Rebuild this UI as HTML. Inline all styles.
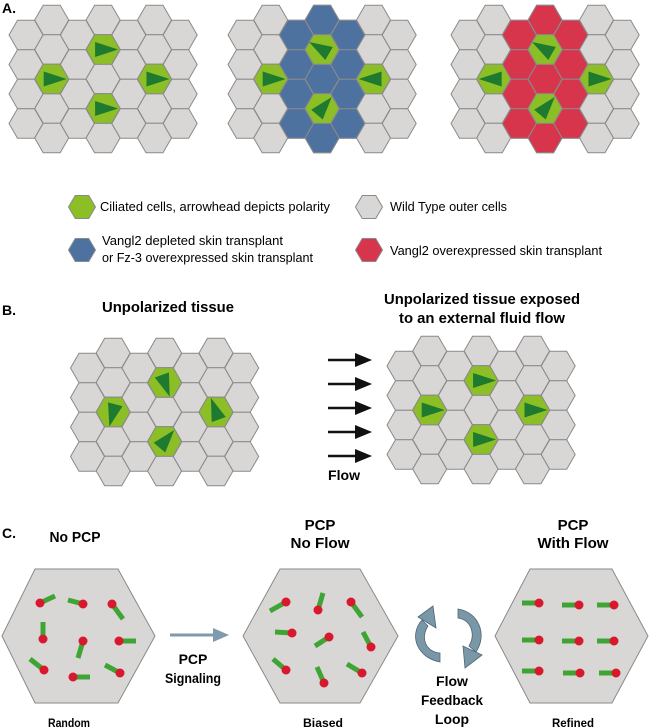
<!DOCTYPE html>
<html><head><meta charset="utf-8"><style>
html,body{margin:0;padding:0;background:#fff;}
svg{display:block;font-family:"Liberation Sans",sans-serif;}
</style></head><body>
<svg width="650" height="728" viewBox="0 0 650 728" xmlns="http://www.w3.org/2000/svg">
<defs>
<polygon id="h" points="-17,0 -8.5,-14.75 8.5,-14.75 17,0 8.5,14.75 -8.5,14.75" stroke="#8a8a8a" stroke-width="1"/>
<polygon id="t" points="-8,-7.5 15,0 -8,7.5" fill="#1e7a2e"/>
<polygon id="lh" points="-13.5,0 -6.75,-11.5 6.75,-11.5 13.5,0 6.75,11.5 -6.75,11.5" stroke="#8a8a8a" stroke-width="1"/>
<g id="grid">
<g fill="#d9d6d6">
<use href="#h" x="0" y="35"/><use href="#h" x="0" y="64.5"/><use href="#h" x="0" y="94"/><use href="#h" x="0" y="123.5"/>
<use href="#h" x="25.7" y="20"/><use href="#h" x="25.7" y="49.5"/><use href="#h" x="25.7" y="79"/><use href="#h" x="25.7" y="108.5"/><use href="#h" x="25.7" y="138"/>
<use href="#h" x="51.4" y="35"/><use href="#h" x="51.4" y="64.5"/><use href="#h" x="51.4" y="94"/><use href="#h" x="51.4" y="123.5"/>
<use href="#h" x="77.1" y="20"/><use href="#h" x="77.1" y="49.5"/><use href="#h" x="77.1" y="79"/><use href="#h" x="77.1" y="108.5"/><use href="#h" x="77.1" y="138"/>
<use href="#h" x="102.8" y="35"/><use href="#h" x="102.8" y="64.5"/><use href="#h" x="102.8" y="94"/><use href="#h" x="102.8" y="123.5"/>
<use href="#h" x="128.5" y="20"/><use href="#h" x="128.5" y="49.5"/><use href="#h" x="128.5" y="79"/><use href="#h" x="128.5" y="108.5"/><use href="#h" x="128.5" y="138"/>
<use href="#h" x="154.2" y="35"/><use href="#h" x="154.2" y="64.5"/><use href="#h" x="154.2" y="94"/><use href="#h" x="154.2" y="123.5"/>
</g>
</g>
<g id="greens" fill="#8cbf26">
<use href="#h" x="25.7" y="79"/><use href="#h" x="77.1" y="49.5"/><use href="#h" x="77.1" y="108.5"/><use href="#h" x="128.5" y="79"/>
</g>
</defs>

<!-- Panel A -->
<text x="2" y="13" font-size="14" font-weight="bold">A.</text>
<g transform="translate(26,0)">
<use href="#grid"/><use href="#greens"/>
<use href="#t" x="25.7" y="79"/><use href="#t" x="77.1" y="49.5"/><use href="#t" x="77.1" y="108.5"/><use href="#t" x="128.5" y="79"/>
</g>
<g transform="translate(245,0)">
<use href="#grid"/>
<g fill="#4e72a0">
<use href="#h" x="51.4" y="35"/><use href="#h" x="51.4" y="64.5"/><use href="#h" x="51.4" y="94"/><use href="#h" x="51.4" y="123.5"/>
<use href="#h" x="77.1" y="20"/><use href="#h" x="77.1" y="79"/><use href="#h" x="77.1" y="138"/>
<use href="#h" x="102.8" y="35"/><use href="#h" x="102.8" y="64.5"/><use href="#h" x="102.8" y="94"/><use href="#h" x="102.8" y="123.5"/>
</g>
<use href="#greens"/>
<use href="#t" x="25.7" y="79"/>
<use href="#t" transform="translate(128.5,79) rotate(180)"/>
<use href="#t" transform="translate(77.1,49.5) rotate(-150)"/>
<use href="#t" transform="translate(77.1,108.5) rotate(-50)"/>
</g>
<g transform="translate(468,0)">
<use href="#grid"/>
<g fill="#d6354b">
<use href="#h" x="51.4" y="35"/><use href="#h" x="51.4" y="64.5"/><use href="#h" x="51.4" y="94"/><use href="#h" x="51.4" y="123.5"/>
<use href="#h" x="77.1" y="20"/><use href="#h" x="77.1" y="79"/><use href="#h" x="77.1" y="138"/>
<use href="#h" x="102.8" y="35"/><use href="#h" x="102.8" y="64.5"/><use href="#h" x="102.8" y="94"/><use href="#h" x="102.8" y="123.5"/>
</g>
<use href="#greens"/>
<use href="#t" transform="translate(25.7,79) rotate(180)"/>
<use href="#t" x="128.5" y="79"/>
<use href="#t" transform="translate(77.1,49.5) rotate(-150)"/>
<use href="#t" transform="translate(77.1,108.5) rotate(-50)"/>
</g>

<!-- Legend -->
<use href="#lh" x="82" y="207" fill="#8cbf26"/>
<text x="100" y="211" font-size="13" textLength="230" lengthAdjust="spacingAndGlyphs">Ciliated cells, arrowhead depicts polarity</text>
<use href="#lh" x="369" y="207" fill="#d9d6d6"/>
<text x="390" y="211" font-size="13" textLength="117" lengthAdjust="spacingAndGlyphs">Wild Type outer cells</text>
<use href="#lh" x="82" y="250" fill="#4e72a0"/>
<text x="102" y="245" font-size="13" textLength="181" lengthAdjust="spacingAndGlyphs">Vangl2 depleted skin transplant</text>
<text x="102" y="262" font-size="13" textLength="211" lengthAdjust="spacingAndGlyphs">or Fz-3 overexpressed skin transplant</text>
<use href="#lh" x="369" y="250" fill="#d6354b"/>
<text x="390" y="255" font-size="13" textLength="212" lengthAdjust="spacingAndGlyphs">Vangl2 overexpressed skin transplant</text>

<!-- Panel B -->
<text x="2" y="315" font-size="14" font-weight="bold">B.</text>
<text x="168" y="312" font-size="15" font-weight="bold" text-anchor="middle" textLength="132" lengthAdjust="spacingAndGlyphs">Unpolarized tissue</text>
<text x="482" y="304" font-size="15" font-weight="bold" text-anchor="middle" textLength="196" lengthAdjust="spacingAndGlyphs">Unpolarized tissue exposed</text>
<text x="482" y="323" font-size="15" font-weight="bold" text-anchor="middle" textLength="166" lengthAdjust="spacingAndGlyphs">to an external fluid flow</text>

<g transform="translate(87.5,333)">
<use href="#grid"/><use href="#greens"/>
<use href="#t" transform="translate(25.7,79) rotate(105)"/>
<use href="#t" transform="translate(77.1,49.5) rotate(70)"/>
<use href="#t" transform="translate(77.1,108.5) rotate(-50)"/>
<use href="#t" transform="translate(128.5,79) rotate(-110)"/>
</g>
<g transform="translate(404,331)">
<use href="#grid"/><use href="#greens"/>
<use href="#t" x="25.7" y="79"/><use href="#t" x="77.1" y="49.5"/><use href="#t" x="77.1" y="108.5"/><use href="#t" x="128.5" y="79"/>
</g>
<g fill="#111" stroke="#111">
<line x1="328" y1="360" x2="358" y2="360" stroke-width="2.5"/><polygon points="355,353 372,360 355,367" stroke="none"/>
<line x1="328" y1="384" x2="358" y2="384" stroke-width="2.5"/><polygon points="355,377 372,384 355,391" stroke="none"/>
<line x1="328" y1="408" x2="358" y2="408" stroke-width="2.5"/><polygon points="355,401 372,408 355,415" stroke="none"/>
<line x1="328" y1="432" x2="358" y2="432" stroke-width="2.5"/><polygon points="355,425 372,432 355,439" stroke="none"/>
<line x1="328" y1="456" x2="358" y2="456" stroke-width="2.5"/><polygon points="355,449 372,456 355,463" stroke="none"/>
</g>
<text x="328" y="480" font-size="14" font-weight="bold" textLength="32" lengthAdjust="spacingAndGlyphs">Flow</text>

<!-- Panel C -->
<text x="2" y="538" font-size="14" font-weight="bold">C.</text>
<text x="75" y="542" font-size="15" font-weight="bold" text-anchor="middle" textLength="51" lengthAdjust="spacingAndGlyphs">No PCP</text>
<text x="320" y="530" font-size="15" font-weight="bold" text-anchor="middle">PCP</text>
<text x="320" y="548" font-size="15" font-weight="bold" text-anchor="middle" textLength="59" lengthAdjust="spacingAndGlyphs">No Flow</text>
<text x="573" y="530" font-size="15" font-weight="bold" text-anchor="middle">PCP</text>
<text x="573" y="548" font-size="15" font-weight="bold" text-anchor="middle" textLength="71" lengthAdjust="spacingAndGlyphs">With Flow</text>

<g fill="#d9d6d6" stroke="#8a8a8a" stroke-width="1">
<polygon points="2,636 35,569 118,569 155,636 118,703 35,703"/>
<polygon points="243,636 280,569 360,569 398,636 360,703 280,703"/>
<polygon points="495,636 530,569 612,569 648,636 612,703 530,703"/>
</g>

<g stroke="#3ea535" stroke-width="5" stroke-linecap="butt">
<line x1="40" y1="603" x2="55" y2="596"/><line x1="83" y1="604" x2="68" y2="600"/><line x1="112" y1="604" x2="123" y2="619"/>
<line x1="43" y1="639" x2="43" y2="622"/><line x1="83" y1="641" x2="78" y2="658"/><line x1="119" y1="641" x2="136" y2="641"/>
<line x1="44" y1="670" x2="30" y2="659"/><line x1="73" y1="677" x2="90" y2="677"/><line x1="120" y1="673" x2="105" y2="665"/>
<line x1="286" y1="602" x2="270" y2="611"/><line x1="318" y1="610" x2="323" y2="593"/><line x1="351" y1="602" x2="362" y2="617"/>
<line x1="292" y1="633" x2="275" y2="632"/><line x1="329" y1="637" x2="315" y2="646"/><line x1="371" y1="647" x2="363" y2="632"/>
<line x1="286" y1="670" x2="273" y2="659"/><line x1="324" y1="683" x2="317" y2="667"/><line x1="362" y1="673" x2="347" y2="664"/>
<line x1="539" y1="603" x2="522" y2="603"/><line x1="579" y1="605" x2="562" y2="605"/><line x1="614" y1="605" x2="597" y2="605"/>
<line x1="539" y1="640" x2="522" y2="640"/><line x1="579" y1="641" x2="562" y2="641"/><line x1="614" y1="641" x2="597" y2="641"/>
<line x1="539" y1="671" x2="522" y2="671"/><line x1="580" y1="673" x2="563" y2="673"/><line x1="616" y1="673" x2="599" y2="673"/>
</g>
<g fill="#d7182d">
<circle cx="40" cy="603" r="4.5"/><circle cx="83" cy="604" r="4.5"/><circle cx="112" cy="604" r="4.5"/>
<circle cx="43" cy="639" r="4.5"/><circle cx="83" cy="641" r="4.5"/><circle cx="119" cy="641" r="4.5"/>
<circle cx="44" cy="670" r="4.5"/><circle cx="73" cy="677" r="4.5"/><circle cx="120" cy="673" r="4.5"/>
<circle cx="286" cy="602" r="4.5"/><circle cx="318" cy="610" r="4.5"/><circle cx="351" cy="602" r="4.5"/>
<circle cx="292" cy="633" r="4.5"/><circle cx="329" cy="637" r="4.5"/><circle cx="371" cy="647" r="4.5"/>
<circle cx="286" cy="670" r="4.5"/><circle cx="324" cy="683" r="4.5"/><circle cx="362" cy="673" r="4.5"/>
<circle cx="539" cy="603" r="4.5"/><circle cx="579" cy="605" r="4.5"/><circle cx="614" cy="605" r="4.5"/>
<circle cx="539" cy="640" r="4.5"/><circle cx="579" cy="641" r="4.5"/><circle cx="614" cy="641" r="4.5"/>
<circle cx="539" cy="671" r="4.5"/><circle cx="580" cy="673" r="4.5"/><circle cx="616" cy="673" r="4.5"/>
</g>

<!-- PCP signaling arrow -->
<line x1="170" y1="635" x2="216" y2="635" stroke="#7f9aab" stroke-width="3"/>
<polygon points="213,628 229,635 213,642" fill="#7f9aab"/>
<text x="193" y="664" font-size="14" font-weight="bold" text-anchor="middle">PCP</text>
<text x="193" y="683" font-size="14" font-weight="bold" text-anchor="middle" textLength="56" lengthAdjust="spacingAndGlyphs">Signaling</text>

<!-- feedback loop arrows -->
<g fill="#7a97a8" stroke="#4f6673" stroke-width="0.8">
<path d="M440,662 C418,658 408,636 422,620 L428,626 C420,638 426,652 440,653 Z"/>
<polygon points="418,617 433,606 436,628"/>
<path d="M458,609 C478,612 488,634 476,652 L469,646 C476,634 471,620 458,618 Z"/>
<polygon points="482,655 465,668 463,646"/>
</g>
<text x="452" y="686" font-size="14" font-weight="bold" text-anchor="middle">Flow</text>
<text x="452" y="705" font-size="14" font-weight="bold" text-anchor="middle" textLength="62" lengthAdjust="spacingAndGlyphs">Feedback</text>
<text x="452" y="724" font-size="14" font-weight="bold" text-anchor="middle">Loop</text>

<text x="69" y="727" font-size="12" font-weight="bold" text-anchor="middle" textLength="42" lengthAdjust="spacingAndGlyphs">Random</text>
<text x="323" y="727" font-size="12" font-weight="bold" text-anchor="middle" textLength="40" lengthAdjust="spacingAndGlyphs">Biased</text>
<text x="573" y="727" font-size="12" font-weight="bold" text-anchor="middle" textLength="42" lengthAdjust="spacingAndGlyphs">Refined</text>
</svg>
</body></html>
